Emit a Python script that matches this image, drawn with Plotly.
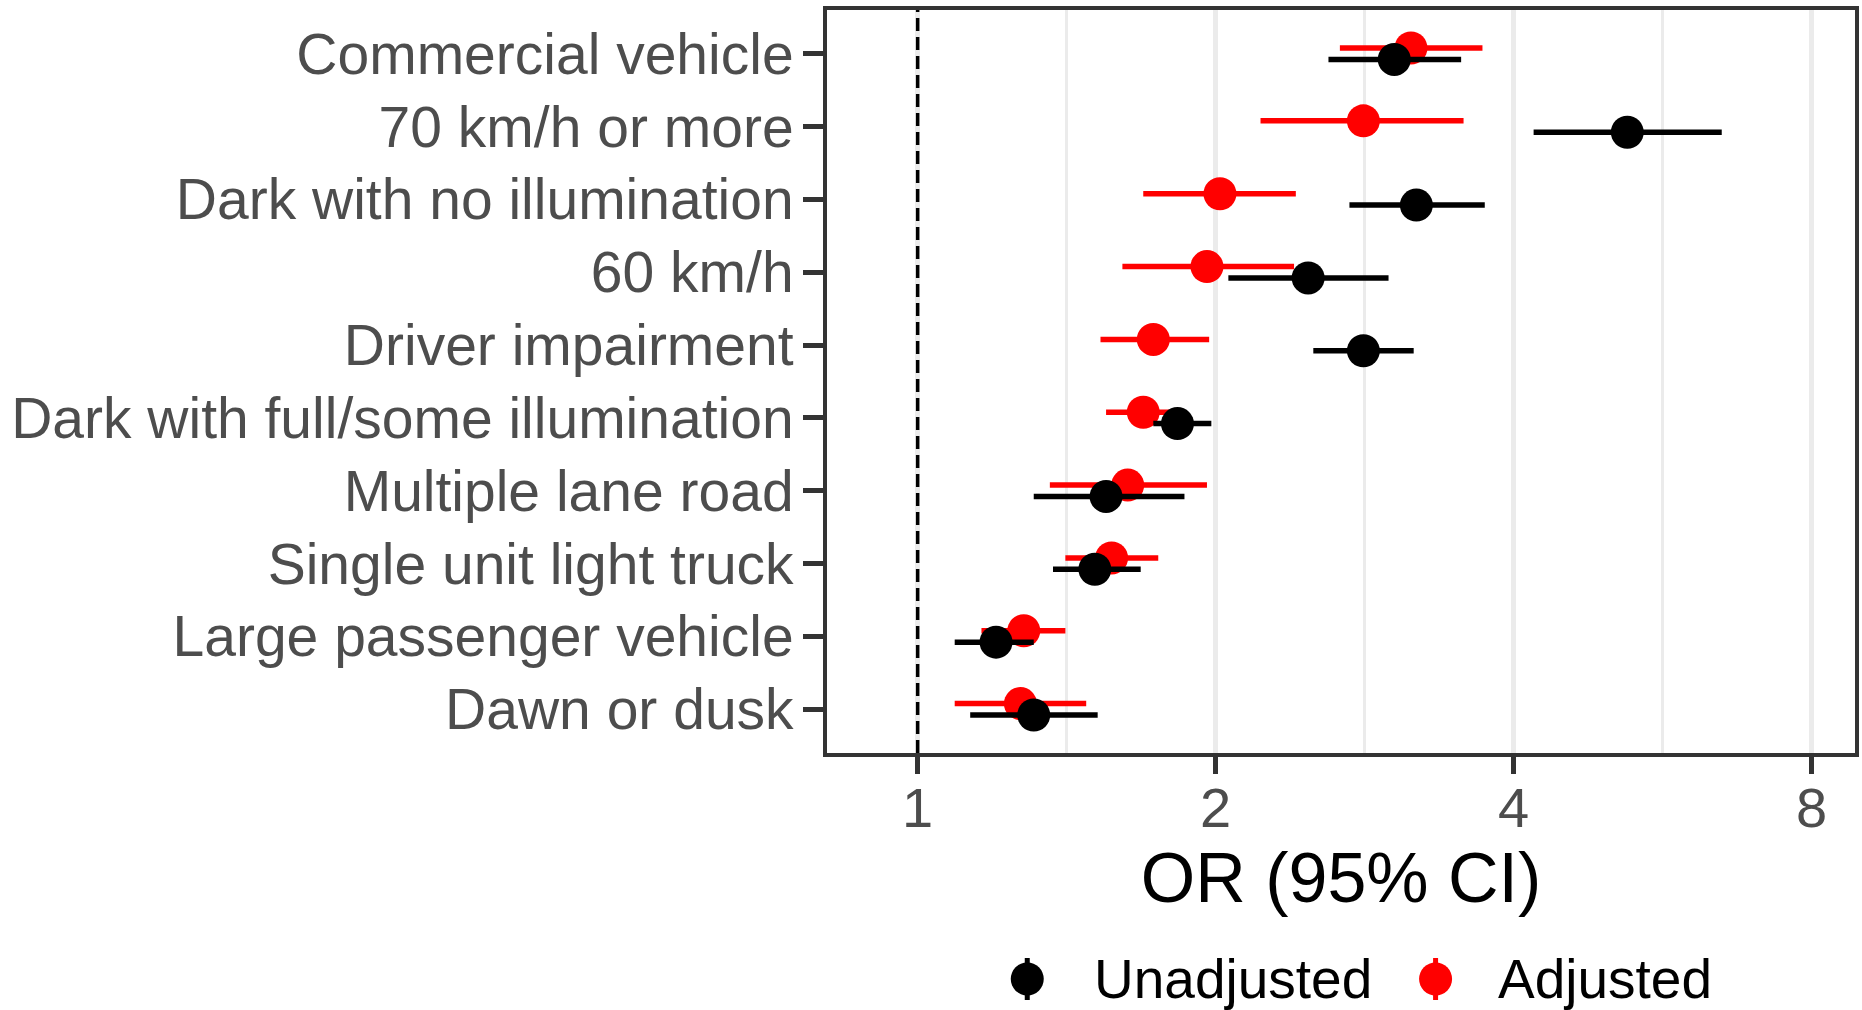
import math
import plotly.graph_objects as go

# Risk factors, top to bottom
categories = [
    "Commercial vehicle",
    "70 km/h or more",
    "Dark with no illumination",
    "60 km/h",
    "Driver impairment",
    "Dark with full/some illumination",
    "Multiple lane road",
    "Single unit light truck",
    "Large passenger vehicle",
    "Dawn or dusk",
]

# Unadjusted odds ratios with 95% CI
unadjusted_or = [3.03, 5.21, 3.19, 2.48, 2.82, 1.83, 1.55, 1.51, 1.20, 1.31]
unadjusted_lo = [2.60, 4.19, 2.73, 2.06, 2.51, 1.73, 1.31, 1.37, 1.09, 1.13]
unadjusted_hi = [3.54, 6.49, 3.74, 2.99, 3.17, 1.98, 1.86, 1.68, 1.31, 1.52]

# Adjusted odds ratios with 95% CI
adjusted_or = [3.15, 2.82, 2.02, 1.96, 1.73, 1.69, 1.63, 1.57, 1.28, 1.27]
adjusted_lo = [2.67, 2.22, 1.69, 1.61, 1.53, 1.55, 1.36, 1.41, 1.16, 1.09]
adjusted_hi = [3.72, 3.56, 2.41, 2.40, 1.97, 1.82, 1.96, 1.75, 1.41, 1.48]

x_ticks = [1, 2, 4, 8]
x_minor = [2 ** 0.5, 2 ** 1.5, 2 ** 2.5]

series_names = ["Unadjusted", "Adjusted"]
series_colors = ["#000000", "#FF0000"]

FONT = "Liberation Sans, Arial, Helvetica, sans-serif"
dodge = 0.078
pos = list(range(len(categories)))

fig = go.Figure()


def pointrange(est, lo, hi, shift, color, name):
    return go.Scatter(
        x=est,
        y=[p + shift for p in pos],
        mode="markers",
        name=name,
        showlegend=False,
        marker=dict(color=color, size=33, line=dict(width=0)),
        error_x=dict(
            type="data",
            symmetric=False,
            array=[h - e for h, e in zip(hi, est)],
            arrayminus=[e - l for e, l in zip(est, lo)],
            color=color,
            thickness=5.5,
            width=0,
        ),
    )


# adjusted drawn first so unadjusted sits on top
fig.add_trace(pointrange(adjusted_or, adjusted_lo, adjusted_hi, -dodge, series_colors[1], series_names[1]))
fig.add_trace(pointrange(unadjusted_or, unadjusted_lo, unadjusted_hi, dodge, series_colors[0], series_names[0]))

# reference line at OR = 1
fig.add_shape(
    type="line", xref="x", yref="paper", x0=1, x1=1, y0=0, y1=1,
    line=dict(color="#000000", width=3.5, dash="13px,6px"), layer="above",
)

# legend drawn by hand: key point with vertical range line + label
key_y = -0.3042
key_x = [0.1948, 0.5920]
label_x = [0.2578, 0.6512]
for kx, lx, name, color in zip(key_x, label_x, series_names, series_colors):
    fig.add_shape(
        type="line", xref="paper", yref="paper",
        xsizemode="pixel", ysizemode="pixel",
        xanchor=kx, yanchor=key_y, x0=0, x1=0, y0=-21, y1=21,
        line=dict(color=color, width=5),
    )
    fig.add_shape(
        type="circle", xref="paper", yref="paper",
        xsizemode="pixel", ysizemode="pixel",
        xanchor=kx, yanchor=key_y, x0=-16.5, x1=16.5, y0=-16.5, y1=16.5,
        fillcolor=color, line=dict(width=0),
    )
    fig.add_annotation(
        x=lx, y=key_y, xref="paper", yref="paper",
        xanchor="left", yanchor="middle", showarrow=False,
        text=name, font=dict(family=FONT, size=55, color="#000000"),
    )

fig.update_layout(
    width=1862,
    height=1010,
    margin=dict(l=827, r=3, t=10, b=257),
    paper_bgcolor="white",
    plot_bgcolor="white",
    font=dict(family=FONT),
    showlegend=False,
)

fig.update_xaxes(
    type="log",
    range=[-0.09157, 0.94686],
    tickmode="array",
    tickvals=x_ticks,
    ticktext=[str(t) for t in x_ticks],
    showgrid=True,
    gridcolor="#EBEBEB",
    gridwidth=5,
    minor=dict(tickvals=x_minor, showgrid=True, gridcolor="#EBEBEB", gridwidth=2.5, ticks=""),
    ticks="outside",
    ticklen=17,
    tickwidth=5,
    tickcolor="#333333",
    tickfont=dict(family=FONT, size=56, color="#4D4D4D"),
    ticklabelstandoff=-14,
    showline=True,
    mirror=True,
    linecolor="#333333",
    linewidth=4,
    zeroline=False,
    title=dict(text="OR (95% CI)", font=dict(family=FONT, size=70, color="#000000"), standoff=12),
)

fig.update_yaxes(
    range=[len(categories) - 0.4, -0.6],
    tickmode="array",
    tickvals=pos,
    ticktext=categories,
    showgrid=False,
    ticks="outside",
    ticklen=20,
    tickwidth=5,
    tickcolor="#333333",
    tickfont=dict(family=FONT, size=57, color="#4D4D4D"),
    ticklabelstandoff=-2,
    showline=True,
    mirror=True,
    linecolor="#333333",
    linewidth=4,
    zeroline=False,
)

fig.write_html("out.html")
